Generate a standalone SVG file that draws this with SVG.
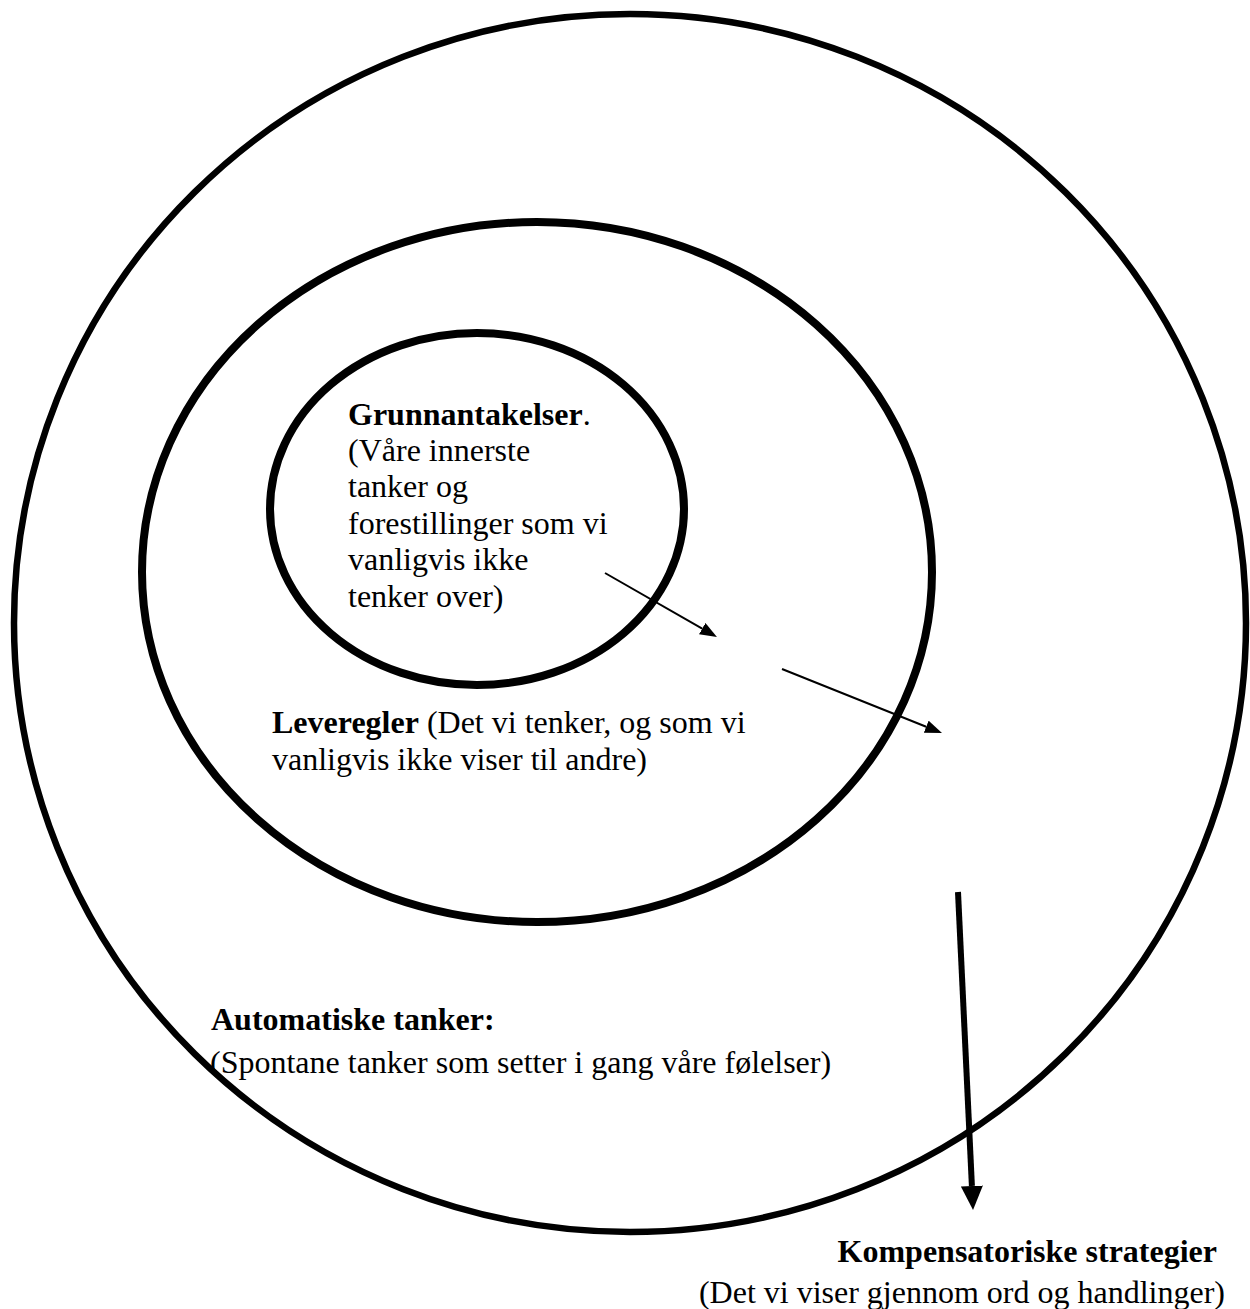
<svg xmlns="http://www.w3.org/2000/svg" width="1250" height="1309" viewBox="0 0 1250 1309">
<defs>
<style>
.ring{fill:none;stroke:#000}
.t{font-family:"Liberation Serif","Times New Roman",serif;font-size:32px;fill:#000}
.b{font-weight:bold}
.con{stroke:#000;fill:none}
</style>
<marker id="ah" markerUnits="userSpaceOnUse" viewBox="0 0 17 13" markerWidth="17" markerHeight="13" refX="0" refY="6.5" orient="auto"><path d="M0,0 L17,6.5 L0,13 z" fill="#000"/></marker>
<marker id="ahb" markerUnits="userSpaceOnUse" viewBox="0 0 24 22" markerWidth="24" markerHeight="22" refX="0" refY="11" orient="auto"><path d="M0,0 L24,11 L0,22 z" fill="#000"/></marker>
</defs>
<rect width="1250" height="1309" fill="#fff"/>
<g id="outer">
<ellipse class="ring" cx="630" cy="623" rx="616" ry="609" stroke-width="6.5"/>
<text class="t" x="211" y="1030"><tspan class="b">Automatiske tanker:</tspan></text>
<text class="t" x="210" y="1073">(Spontane tanker som setter i gang våre følelser)</text>
</g>
<g id="middle">
<ellipse class="ring" cx="537" cy="572" rx="395" ry="350" stroke-width="8"/>
<text class="t" x="272" y="733"><tspan class="b">Leveregler</tspan> (Det vi tenker, og som vi</text>
<text class="t" x="272" y="770">vanligvis ikke viser til andre)</text>
</g>
<g id="inner">
<ellipse class="ring" cx="477" cy="509" rx="207" ry="176" stroke-width="8"/>
<text class="t" x="348" y="425"><tspan class="b">Grunnantakelser</tspan>.</text>
<text class="t" x="348" y="461">(Våre innerste</text>
<text class="t" x="348" y="497">tanker og</text>
<text class="t" x="348" y="534">forestillinger som vi</text>
<text class="t" x="348" y="570">vanligvis ikke</text>
<text class="t" x="348" y="607">tenker over)</text>
</g>
<g id="strategies">
<text class="t b" x="1217" y="1262" text-anchor="end">Kompensatoriske strategier</text>
<text class="t" x="1225" y="1303" text-anchor="end">(Det vi viser gjennom ord og handlinger)</text>
</g>
<g id="connectors">
<line class="con" x1="605" y1="573" x2="702.2" y2="628.6" stroke-width="2" marker-end="url(#ah)"/>
<line class="con" x1="782" y1="669" x2="926.2" y2="726.7" stroke-width="2" marker-end="url(#ah)"/>
<line class="con" x1="958" y1="892" x2="971.9" y2="1186" stroke-width="6" marker-end="url(#ahb)"/>
</g>
</svg>
